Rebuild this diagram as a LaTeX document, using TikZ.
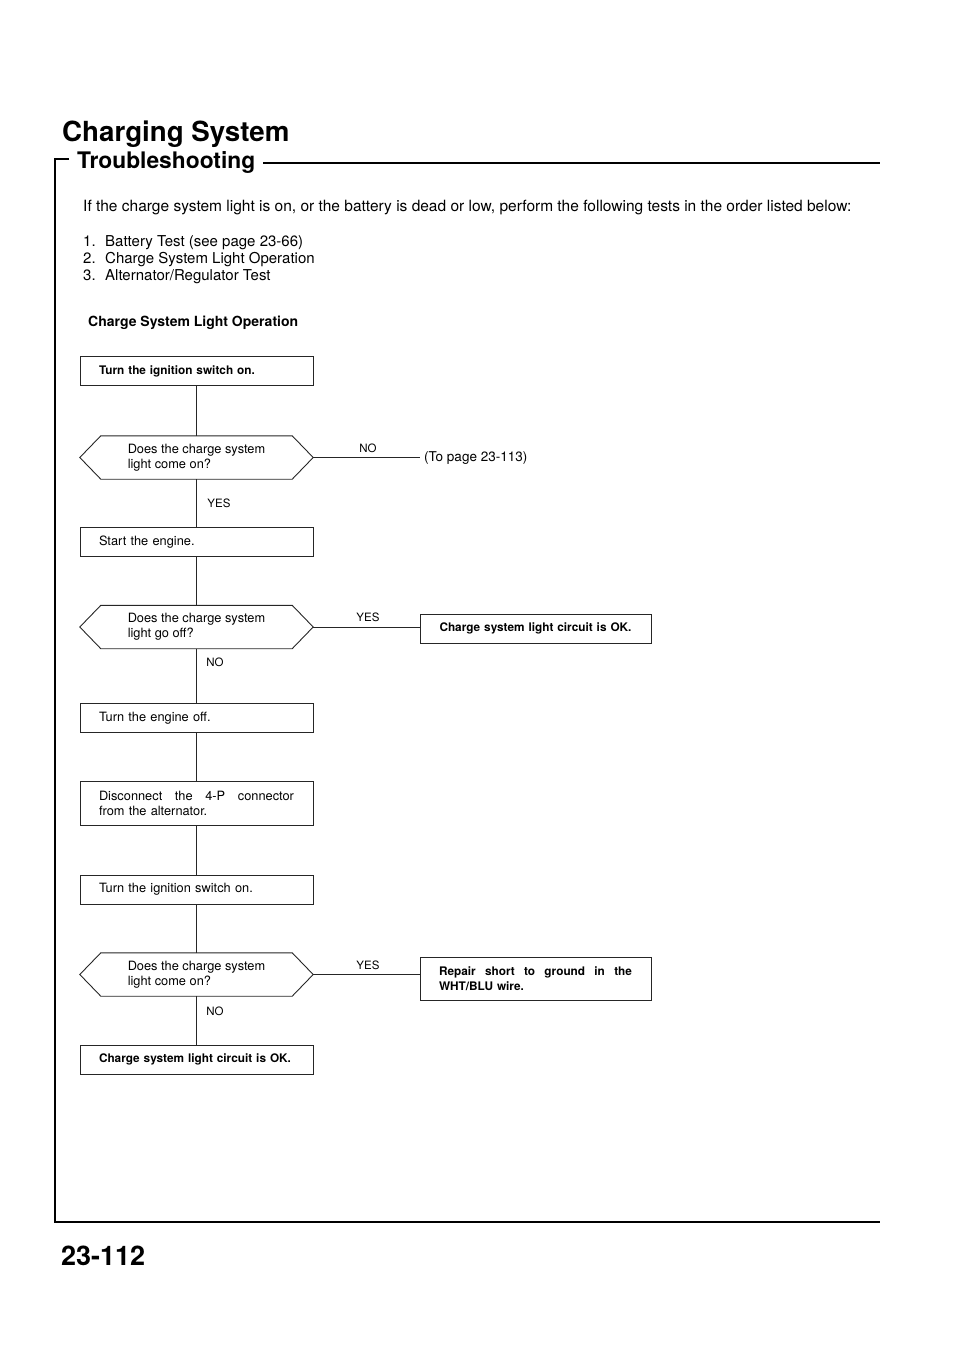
\documentclass[tikz,border=0pt]{standalone}
\usepackage{fontspec}
\setmainfont{TeX Gyre Heros}
\newcommand{\fsz}[1]{\fontsize{#1}{#1}\selectfont}
\newcommand{\boldflow}{\bfseries\fontsize{11.8}{15}\selectfont}
\newcommand{\regflow}{\fontsize{12.8}{15}\selectfont}
\begin{document}
\begin{tikzpicture}[x=1pt,y=-1pt,
  stepbox/.style={draw=black!85, line width=0.9pt, minimum width=233pt, minimum height=29pt,
     inner xsep=19pt, inner ysep=3pt, text width=195pt, align=left, font=\regflow},
  rbox/.style={stepbox, minimum width=231pt, inner xsep=19pt, text width=193pt},
  hexbody/.style={minimum width=191pt, minimum height=43pt, inner sep=0pt, align=left,
     font=\regflow},
  hexline/.style={draw=black!85, line width=0.9pt},
  conn/.style={draw=black!85, line width=0.9pt},
  lbl/.style={font=\fontsize{11.5}{11.5}\selectfont, inner sep=1pt},
  frame/.style={line width=1.6pt}
]
\useasboundingbox (0,0) rectangle (960,1358);

% headings
\node[anchor=base west, inner sep=0pt, font=\bfseries\fsz{27.7}] (title) at (62,141) {Charging System};
\node[anchor=base west, inner sep=0pt, font=\bfseries\fsz{22.8}] (sub) at (77,168) {Troubleshooting};
\node[anchor=base west, inner sep=0pt, font=\bfseries\fsz{27}] (pageno) at (61,1265) {23-112};

% frame
\coordinate (ftl) at (55,159);
\coordinate (ftick) at (69,159);
\coordinate (fbl) at (55,1222);
\coordinate (fbr) at (880,1222);
\coordinate (ftr) at (880,163);
\draw[frame] (ftick) -- (ftl) -- (fbl) -- (fbr);
\draw[frame, line width=1.3pt] ([xshift=8pt]sub.east |- ftr) -- (ftr);

% intro text
\node[anchor=base west, inner sep=0pt, font=\fsz{15.5}] (intro) at (83,211)
  {If the charge system light is on, or the battery is dead or low, perform the following tests in the order listed below:};
\node[anchor=north west, inner sep=0pt, align=left, font=\fontsize{15}{17}\selectfont] (list) at (83,235)
  {\makebox[22pt][l]{1.}Battery Test (see page 23-66)\\
   \makebox[22pt][l]{2.}Charge System Light Operation\\
   \makebox[22pt][l]{3.}Alternator/Regulator Test};
\node[anchor=base west, inner sep=0pt, font=\bfseries\fsz{14}] (head) at (88,326) {Charge System Light Operation};

% flow nodes
\node[stepbox, font=\boldflow] (b1) at (196.5,371) {Turn the ignition switch on.};
\node[hexbody] (d1) at (196.5,457.5) {Does the charge system\\light come on?};
\node[stepbox] (b2) at (196.5,542) {Start the engine.};
\node[hexbody] (d2) at (196.5,627) {Does the charge system\\light go off?};
\node[stepbox] (b3) at (196.5,718) {Turn the engine off.};
\node[stepbox, minimum height=44pt] (b4) at (196.5,803.5)
  {\hbox to 195pt{Disconnect\hfill the\hfill 4-P\hfill connector}\\from the alternator.};
\node[stepbox] (b5) at (196.5,889.5) {Turn the ignition switch on.};
\node[hexbody] (d3) at (196.5,974.5) {Does the charge system\\light come on?};
\node[stepbox, font=\boldflow] (b6) at (196.5,1059.5) {Charge system light circuit is OK.};

\node[rbox, align=center, font=\boldflow] (ok1) at (535.5,628.5) {Charge system light circuit is OK.};
\node[rbox, minimum height=43pt, font=\boldflow] (rep) at (535.5,978.5)
  {\hbox to 193pt{Repair\hfill short\hfill to\hfill ground\hfill in\hfill the}\\WHT/BLU wire.};
\node[anchor=west, inner sep=0pt, font=\fsz{13.5}] (topage) at (424,458) {(To page 23-113)};

% hexagon outlines
\foreach \d in {d1,d2,d3}{
  \draw[hexline] (\d.north west) -- (\d.north east) -- ([xshift=21pt]\d.east)
     -- (\d.south east) -- (\d.south west) -- ([xshift=-21pt]\d.west) -- cycle;
}
\coordinate (d1r) at ([xshift=21pt]d1.east);
\coordinate (d2r) at ([xshift=21pt]d2.east);
\coordinate (d3r) at ([xshift=21pt]d3.east);

% vertical connectors
\draw[conn] (b1) -- (d1);
\draw[conn] (d1) -- (b2);
\draw[conn] (b2) -- (d2);
\draw[conn] (d2) -- (b3);
\draw[conn] (b3) -- (b4);
\draw[conn] (b4) -- (b5);
\draw[conn] (b5) -- (d3);
\draw[conn] (d3) -- (b6);

% horizontal connectors
\draw[conn] (d1r) -- ([xshift=-4pt]topage.west |- d1r);
\draw[conn] (d2r) -- (d2r -| ok1.west);
\draw[conn] (d3r) -- (d3r -| rep.west);

% labels
\node[lbl] (l1) at (368,448) {NO};
\node[lbl] (l2) at (219,503) {YES};
\node[lbl] (l3) at (368,617) {YES};
\node[lbl] (l4) at (215,662) {NO};
\node[lbl] (l5) at (368,965) {YES};
\node[lbl] (l6) at (215,1011) {NO};
\end{tikzpicture}
\end{document}
